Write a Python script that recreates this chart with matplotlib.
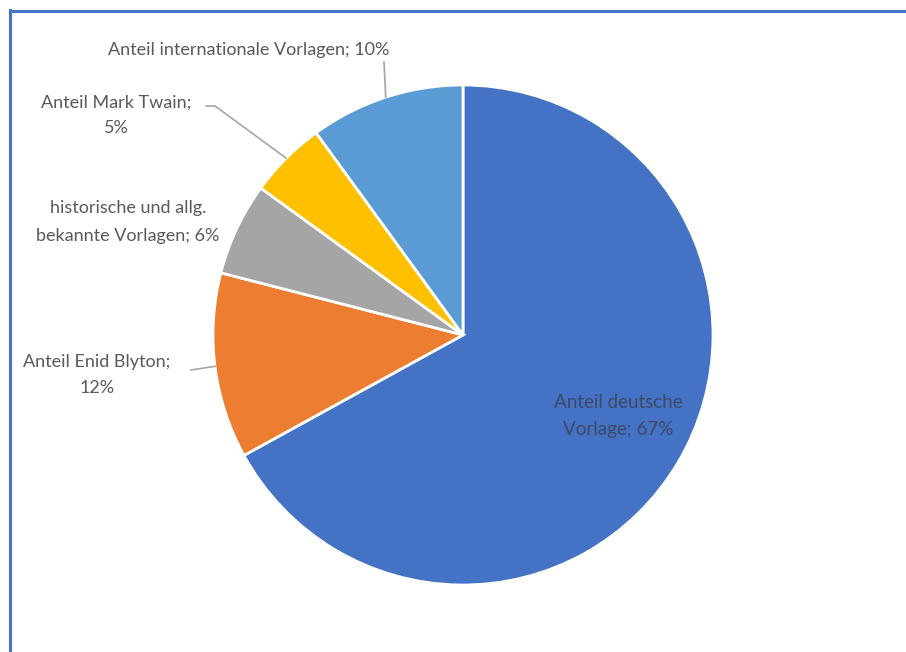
import numpy as np
import matplotlib.pyplot as plt
from matplotlib.lines import Line2D

plt.rcParams["font.family"] = ["Lato", "DejaVu Sans"]

# Anteile in Prozent, im Uhrzeigersinn ab 12 Uhr
labels = ["Anteil deutsche\nVorlage", "Anteil Enid Blyton;\n", "historische und allg.\nbekannte Vorlagen",
          "Anteil Mark Twain;\n", "Anteil internationale Vorlagen"]
values = [67, 12, 6, 5, 10]
colors = ["#4472C4", "#ED7D31", "#A5A5A5", "#FFC000", "#5B9BD5"]

W, H = 906, 652
CX, CY, R = 463, H - 335, 250
TXT = "#595959"

fig = plt.figure(figsize=(W / 100, H / 100), dpi=100)
fig.patch.set_facecolor("white")
ax = fig.add_axes([0, 0, 1, 1])

wedges, _ = ax.pie(values, colors=colors, startangle=90, counterclock=False,
                   center=(CX, CY), radius=R,
                   wedgeprops=dict(edgecolor="white", linewidth=2))
ax.set_xlim(0, W)
ax.set_ylim(0, H)
ax.set_aspect("equal")
ax.axis("off")

def edge_point(w, r=R):
    a = np.deg2rad((w.theta1 + w.theta2) / 2)
    return CX + r * np.cos(a), CY + r * np.sin(a)

fs = 13
ls = 1.75
# Anteil deutsche Vorlage (innen)
ax.text(618, H - 416, f"Anteil deutsche\nVorlage; {values[0]}%", ha="center", va="center",
        fontsize=fs + 0.5, color="#3d4a66", linespacing=ls)

# Anteil Enid Blyton
ax.text(97, H - 375, f"Anteil Enid Blyton;\n{values[1]}%", ha="center", va="center",
        fontsize=fs, color=TXT, linespacing=ls)
ex, ey = edge_point(wedges[1])
ax.plot([191, ex], [H - 370, ey], color="#a6a6a6", lw=1.2)

# historische und allg. bekannte Vorlagen
ax.text(128, H - 222, f"historische und allg.\nbekannte Vorlagen; {values[2]}%", ha="center",
        va="center", fontsize=fs, color=TXT, linespacing=ls + 0.1)

# Anteil Mark Twain
ax.text(116, H - 115, f"Anteil Mark Twain;\n{values[3]}%", ha="center", va="center",
        fontsize=fs, color=TXT, linespacing=ls)
ex, ey = edge_point(wedges[3])
ax.plot([206, 215, ex], [H - 106, H - 106, ey], color="#a6a6a6", lw=1.2)

# Anteil internationale Vorlagen
ax.text(249, H - 50, f"Anteil internationale Vorlagen; {values[4]}%", ha="center", va="center",
        fontsize=fs, color=TXT)
ex, ey = edge_point(wedges[4])
ax.plot([384, ex], [H - 62, ey], color="#a6a6a6", lw=1.2)

# Rahmen oben und links
fig.add_artist(Line2D([9.5 / W, 9.5 / W], [0, 1 - 10 / H], color="#4472C4", lw=2.2,
                      transform=fig.transFigure))
fig.add_artist(Line2D([9.5 / W, 1], [1 - 10.5 / H, 1 - 10.5 / H], color="#4472C4", lw=2.2,
                      transform=fig.transFigure))

fig.savefig("out.png", dpi=100, facecolor="white")
